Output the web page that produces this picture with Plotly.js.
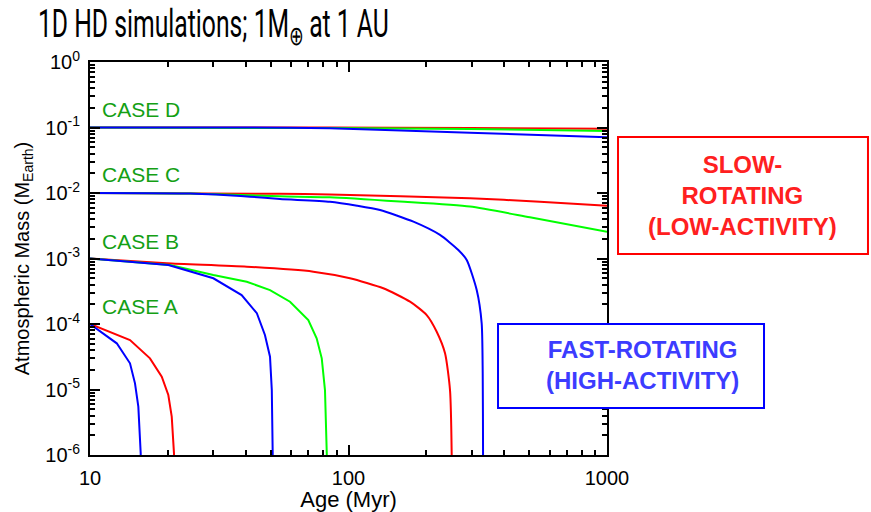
<!DOCTYPE html>
<html>
<head>
<meta charset="utf-8">
<script src="https://cdn.plot.ly/plotly-3.0.1.min.js"></script>
<style>html,body{margin:0;padding:0;background:#fff;}#chart{width:871px;height:512px;}</style>
</head>
<body>
<div id="chart"></div>
<script>
// ---- Data (Age in Myr, atmospheric mass in M_Earth) ----
// CASE A (initial 1e-4)
const caseA_slow_age  = [10, 14.28, 17.06, 18.95, 20.09, 20.71, 21.13, 21.2];
const caseA_slow_mass = [1e-4, 5.7e-5, 2.99e-5, 1.57e-5, 8.24e-6, 3.85e-6, 1.06e-6, 1e-7];
const caseA_fast_age  = [10, 12.69, 14.28, 14.93, 15.38, 15.71, 15.75];
const caseA_fast_mass = [1e-4, 5.07e-5, 2.51e-5, 1.24e-5, 5.46e-6, 1.06e-6, 1e-7];
// CASE B (initial 1e-3)
const caseB_slow_age  = [10, 19.81, 40.4, 73.1, 101.3, 136.3, 173, 200.7, 219.4, 236.3, 247, 250.7, 251];
const caseB_slow_mass = [1e-3, 8.45e-4, 7.5e-4, 6.29e-4, 4.99e-4, 3.51e-4, 2.19e-4, 1.37e-4, 7.62e-5, 3.57e-5, 9.8e-6, 1.06e-6, 1e-7];
const caseB_med_age   = [10, 20.4, 30.0, 40.4, 49.7, 59.4, 69.9, 75.3, 78.8, 81.1, 82.4, 82.5];
const caseB_med_mass  = [1e-3, 7.96e-4, 5.6e-4, 4.42e-4, 3.3e-4, 2.19e-4, 1.15e-4, 6.05e-5, 2.99e-5, 9.8e-6, 1.06e-6, 1e-7];
const caseB_fast_age  = [10, 20.1, 30.0, 38.6, 44.2, 47.5, 49.7, 50.5, 50.9, 51.0];
const caseB_fast_mass = [1e-3, 7.96e-4, 4.99e-4, 2.77e-4, 1.46e-4, 6.79e-5, 3.17e-5, 9.8e-6, 1.06e-6, 1e-7];
// CASE C (initial 1e-2)
const caseC_slow_age  = [10, 54.3, 84.7, 295, 550, 1000];
const caseC_slow_mass = [1e-2, 9.7e-3, 9.5e-3, 8.3e-3, 7.37e-3, 6.4e-3];
const caseC_med_age   = [10, 24.4, 54.3, 84.7, 158, 295, 503, 1000];
const caseC_med_mass  = [1e-2, 9.8e-3, 8.9e-3, 8.6e-3, 7.4e-3, 6.2e-3, 4.26e-3, 2.57e-3];
const caseC_fast_age  = [10, 24.4, 41.6, 54.3, 84.7, 108, 132.4, 178.3, 225.9, 266, 286.6, 313.3, 327.5, 330.5, 331.5, 331.6];
const caseC_fast_mass = [1e-2, 9.8e-3, 8.8e-3, 8.1e-3, 7.36e-3, 6.4e-3, 5.5e-3, 3.65e-3, 2.29e-3, 1.35e-3, 9.5e-4, 3.3e-4, 1.02e-4, 1.77e-5, 1.06e-6, 1e-7];
// CASE D (initial 1e-1)
const caseD_slow_age  = [10, 84.7, 295, 1000];
const caseD_slow_mass = [0.1, 0.1, 0.098, 0.096];
const caseD_med_age   = [10, 84.7, 295, 1000];
const caseD_med_mass  = [0.1, 0.098, 0.095, 0.0885];
const caseD_fast_age  = [10, 41.6, 84.7, 295, 1000];
const caseD_fast_mass = [0.1, 0.1, 0.097, 0.0833, 0.0708];

// Axis ticks
const xTickVals = [10, 100, 1000];
const xTickText = ['10', '100', '1000'];
const yTickVals = [1e-6, 1e-5, 1e-4, 1e-3, 1e-2, 1e-1, 1];
const yTickText = ['10<sup>-6</sup>', '10<sup>-5</sup>', '10<sup>-4</sup>', '10<sup>-3</sup>', '10<sup>-2</sup>', '10<sup>-1</sup>', '10<sup>0</sup>'];

// Labels
const caseLabels = ['CASE D', 'CASE C', 'CASE B', 'CASE A'];

const RED = '#ff0000', GREEN = '#00ff00', BLUE = '#0000ff';
const FONT = 'Liberation Sans, Arial, sans-serif';

function line(x, y, color, smooth) {
  const ln = {color: color, width: 2};
  if (smooth) { ln.shape = 'spline'; ln.smoothing = 0.6; }
  return {x: x, y: y, type: 'scatter', mode: 'lines', line: ln, hoverinfo: 'skip'};
}

const data = [
  line(caseA_slow_age, caseA_slow_mass, RED),
  line(caseA_fast_age, caseA_fast_mass, BLUE),
  line(caseB_slow_age, caseB_slow_mass, RED, true),
  line(caseB_med_age, caseB_med_mass, GREEN),
  line(caseB_fast_age, caseB_fast_mass, BLUE),
  line(caseC_slow_age, caseC_slow_mass, RED, true),
  line(caseC_med_age, caseC_med_mass, GREEN, true),
  line(caseC_fast_age, caseC_fast_mass, BLUE, true),
  line(caseD_slow_age, caseD_slow_mass, RED, true),
  line(caseD_med_age, caseD_med_mass, GREEN, true),
  line(caseD_fast_age, caseD_fast_mass, BLUE, true)
];

const caseY = [0.878, 0.7125, 0.5445, 0.3766];
const annotations = caseLabels.map((t, i) => ({
  text: t, xref: 'paper', yref: 'paper', x: 0.019, y: caseY[i],
  xanchor: 'left', yanchor: 'middle', showarrow: false,
  font: {family: FONT, size: 21, color: '#14a014'}
}));
annotations.push({
  text: 'SLOW-<br>ROTATING<br>(LOW-ACTIVITY)', xref: 'paper', yref: 'paper',
  x: 1.263, y: 0.66, xanchor: 'center', yanchor: 'middle', showarrow: false,
  font: {family: FONT, size: 24, color: '#ff2020', weight: 'bold'}
});
annotations.push({
  text: 'FAST-ROTATING<br>(HIGH-ACTIVITY)', xref: 'paper', yref: 'paper',
  x: 1.0696, y: 0.229, xanchor: 'center', yanchor: 'middle', showarrow: false,
  font: {family: FONT, size: 24, color: '#3c3cff', weight: 'bold'}
});

const shapes = [
  {type: 'rect', xref: 'paper', yref: 'paper', x0: 1.0213, x1: 1.5048, y0: 0.5115, y1: 0.8092,
   line: {color: RED, width: 2}, fillcolor: '#ffffff', layer: 'above'},
  {type: 'rect', xref: 'paper', yref: 'paper', x0: 0.7892, x1: 1.3037, y0: 0.1196, y1: 0.3333,
   line: {color: BLUE, width: 2}, fillcolor: '#ffffff', layer: 'above'}
];

const axisCommon = {
  type: 'log', showgrid: false, zeroline: false,
  showline: true, linecolor: '#000', linewidth: 2, mirror: 'allticks',
  ticks: 'inside', ticklen: 10, tickwidth: 2, tickcolor: '#000',
  tickmode: 'array',
  minor: {ticks: 'inside', ticklen: 5, tickwidth: 2, tickcolor: '#000', dtick: 'D1', showgrid: false},
  tickfont: {family: FONT, size: 20, color: '#000'}
};

const layout = {
  width: 871, height: 512,
  margin: {l: 90, r: 264, t: 62, b: 57},
  paper_bgcolor: '#fff', plot_bgcolor: '#fff',
  showlegend: false,
  title: {
    text: '1D HD simulations; 1M<sub>⊕</sub> at 1 AU',
    xref: 'container', yref: 'container', x: 0.0436, xanchor: 'left', y: 0.953, yanchor: 'middle',
    font: {family: 'Roboto, sans-serif', size: 38, color: '#000'}
  },
  xaxis: Object.assign({}, axisCommon, {
    range: [1, 3], tickvals: xTickVals, ticktext: xTickText, ticklabelstandoff: 4,
    title: {text: 'Age (Myr)', font: {family: FONT, size: 22, color: '#000'}, standoff: 2}
  }),
  yaxis: Object.assign({}, axisCommon, {
    range: [-6, 0], tickvals: yTickVals, ticktext: yTickText, ticklabelstandoff: 4,
    title: {text: 'Atmospheric Mass (M<sub>Earth</sub>)', font: {family: FONT, size: 20, color: '#000'}, standoff: 10}
  }),
  shapes: shapes,
  annotations: annotations
};

Plotly.newPlot('chart', data, layout, {staticPlot: true, displayModeBar: false}).then(function (gd) {
  // Condense the title horizontally to mimic the narrow title typeface of the reference
  const t = gd.querySelector('.gtitle');
  if (t) {
    const bb = t.getBBox();
    const target = 352;
    const s = target / bb.width;
    t.setAttribute('transform', 'translate(' + bb.x + ',0) scale(' + s + ',1) translate(' + (-bb.x) + ',0)');
  }
});
</script>
</body>
</html>
